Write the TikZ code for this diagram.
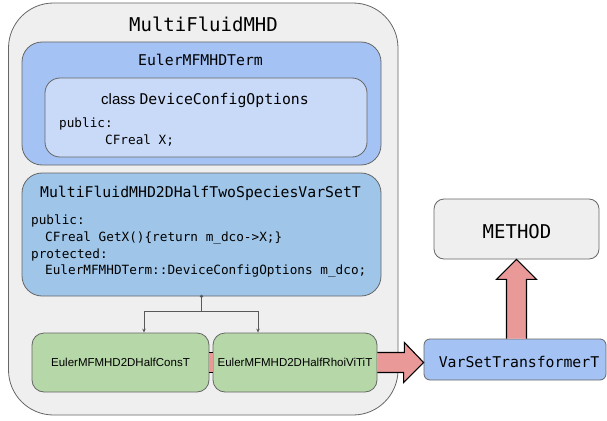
\documentclass[tikz,border=0pt]{standalone}
\usepackage{fontspec}
\setmainfont{Liberation Sans}
\setmonofont{DejaVu Sans Mono}
\usetikzlibrary{arrows.meta,calc}

\definecolor{boxline}{HTML}{666666}
\definecolor{panelgray}{HTML}{EFEFEF}
\definecolor{termblue}{HTML}{A4C2F4}
\definecolor{optblue}{HTML}{C9DAF8}
\definecolor{varblue}{HTML}{9FC5E8}
\definecolor{consgreen}{HTML}{B6D7A8}
\definecolor{arrowpink}{HTML}{EA9999}
\definecolor{linkgray}{HTML}{595959}

\begin{document}
\begin{tikzpicture}[x=1pt,y=-1pt]

  % One unit = one pixel of the final image, y growing downwards.
  \useasboundingbox (0,0) rectangle (607,420);

  \tikzset{
    box/.style={draw=boxline, line width=0.8pt, inner sep=0pt, rounded corners=#1},
    box/.default=12pt,
    title/.style={font=\fontsize{19}{23}\selectfont\ttfamily, anchor=base, inner sep=0pt},
    heading/.style={font=\fontsize{14.8}{18}\selectfont\ttfamily, anchor=base, inner sep=0pt},
    code/.style={font=\fontsize{12.7}{16}\selectfont\ttfamily, anchor=base west, inner sep=0pt},
    impl/.style={box=12pt, fill=consgreen, minimum height=59pt,
                 font=\fontsize{11.5}{14}\selectfont},
    link/.style={draw=linkgray, line width=0.7pt},
    fatarrow/.style={fill=arrowpink, draw=black, line width=1.1pt, line join=miter}
  }

  % Containers, from the outside in
  \node[box=45pt, fill=panelgray, minimum width=389.5pt, minimum height=412pt] (mfmhd) at (203.25,209) {};
  \node[box=20pt, fill=termblue, minimum width=359pt, minimum height=123pt] (term) at (201.5,103.5) {};
  \node[box=15pt, fill=optblue, minimum width=322pt, minimum height=79pt] (opts) at (206,117.5) {};
  \node[box=20pt, fill=varblue, minimum width=359pt, minimum height=123pt] (varset) at (201.5,234.5) {};

  % Concrete variable sets
  \node[impl, minimum width=177pt] (cons) at (120.5,362.5) {EulerMFMHD2DHalfConsT};
  \node[impl, minimum width=164pt] (rhoi) at (295,362.5) {EulerMFMHD2DHalfRhoiViTiT};

  % Boxes outside the physical model
  \node[box=10pt, fill=panelgray, minimum width=165pt, minimum height=60pt] (method) at (516.5,229) {};
  \node[box=6pt, fill=termblue, minimum width=182pt, minimum height=41pt] (trans) at (515,359.5) {};

  % Titles
  \node[title] (mfmhd-title) at (203.5,32) {MultiFluidMHD};
  \node[heading] (term-title) at (200.5,66) {EulerMFMHDTerm};
  \node[heading] (opts-title) at (205,104) {{\rmfamily\fontsize{15}{18}\selectfont class }DeviceConfigOptions};
  \node[heading] (varset-title) at (200.5,197) {MultiFluidMHD2DHalfTwoSpeciesVarSetT};
  \node[title] (method-title) at (517,238) {METHOD};
  \node[heading] (trans-title) at (519,367) {VarSetTransformerT};

  % Member listings
  \node[code] at (59,127.5)  {public:};
  \node[code] at (105,144.5) {CFreal X;};

  \node[code] at (31,224.5)  {public:};
  \node[code] at (45,241.3)  {CFreal GetX()\{return m\_dco->X;\}};
  \node[code] at (31,258)    {protected:};
  \node[code] at (45,274.8)  {EulerMFMHDTerm::DeviceConfigOptions m\_dco;};

  % Inheritance fork below the var set
  \fill[linkgray] (varset.south) circle (1.8pt);
  \draw[link] (varset.south) -- ++(0,15) coordinate (fork);
  \draw[link,-{Stealth[length=4pt,width=3.5pt]}] (fork) -| ([xshift=23.5pt]cons.north);
  \draw[link,-{Stealth[length=4pt,width=3.5pt]}] (fork) -| ([xshift=-37pt]rhoi.north);

  % Short pink link between the two sets
  \fill[arrowpink] ([yshift=10.5pt]cons.east) rectangle ([yshift=-10pt]rhoi.west);
  \draw[black, line width=1pt] ([yshift=10.5pt]cons.east) -- ([yshift=10.5pt]rhoi.west)
                               ([yshift=-10pt]cons.east) -- ([yshift=-10pt]rhoi.west);

  % Fat arrows: sets -> transformer -> method
  \draw[fatarrow] ([yshift=10pt]rhoi.east) -- ++(27,0) -- ++(0,-10)
    -- (trans.west |- rhoi.east) -- ++(-20,20) -- ++(0,-10) -- ([yshift=-10pt]rhoi.east);
  \draw[fatarrow] ([xshift=-10pt]method.south |- trans.north) -- ([xshift=-10pt,yshift=-20pt]method.south)
    -- ++(-10,0) -- (method.south) -- ([xshift=20pt,yshift=-20pt]method.south)
    -- ++(-10,0) -- ([xshift=10pt]method.south |- trans.north);

\end{tikzpicture}
\end{document}
